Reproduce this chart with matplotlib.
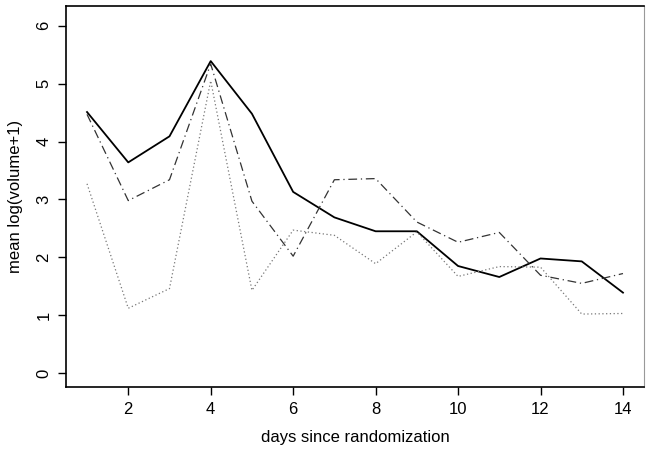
import matplotlib
matplotlib.use("Agg")
import matplotlib.pyplot as plt

plt.rcParams["font.family"] = ["Liberation Sans", "DejaVu Sans"]

days = list(range(1, 15))
solid = [4.51, 3.64, 4.09, 5.39, 4.48, 3.13, 2.69, 2.45, 2.45, 1.85, 1.66, 1.98, 1.93, 1.39]
dashdot = [4.47, 2.98, 3.34, 5.34, 2.97, 2.02, 3.34, 3.36, 2.61, 2.26, 2.43, 1.69, 1.55, 1.72]
dotted = [3.27, 1.12, 1.46, 5.05, 1.43, 2.47, 2.38, 1.89, 2.44, 1.67, 1.84, 1.83, 1.02, 1.03]

fig = plt.figure(figsize=(6.51, 4.5), dpi=100)
# box: x 66..644 px, y 5.5..387 px
ax = fig.add_axes([66 / 651, (450 - 387) / 450, (644 - 66) / 651, (387 - 5.5) / 450])

ax.plot(days, solid, color="black", linewidth=1.3, linestyle="-")
ax.plot(days, dashdot, color="#333333", linewidth=0.9, linestyle=(0, (7, 3, 1, 3)))
ax.plot(days, dotted, color="#777777", linewidth=0.9, linestyle=(0, (1, 2)))

ax.set_xlim(0.49, 14.51)
ax.set_ylim(-0.24, 6.35)
ax.set_xticks([2, 4, 6, 8, 10, 12, 14])
ax.set_yticks([0, 1, 2, 3, 4, 5, 6])
ax.tick_params(direction="out", length=5.5, width=1, labelsize=12, pad=5)
for lbl in ax.get_yticklabels():
    lbl.set_rotation(90)
    lbl.set_va("center")
for s in ax.spines.values():
    s.set_linewidth(1.2)
ax.spines["right"].set_color("#999999")
ax.spines["right"].set_linewidth(0.8)

ax.set_xlabel("days since randomization", fontsize=12, labelpad=10)
ax.set_ylabel("mean log(volume+1)", fontsize=12, labelpad=10)

plt.savefig("out.png", dpi=100)
